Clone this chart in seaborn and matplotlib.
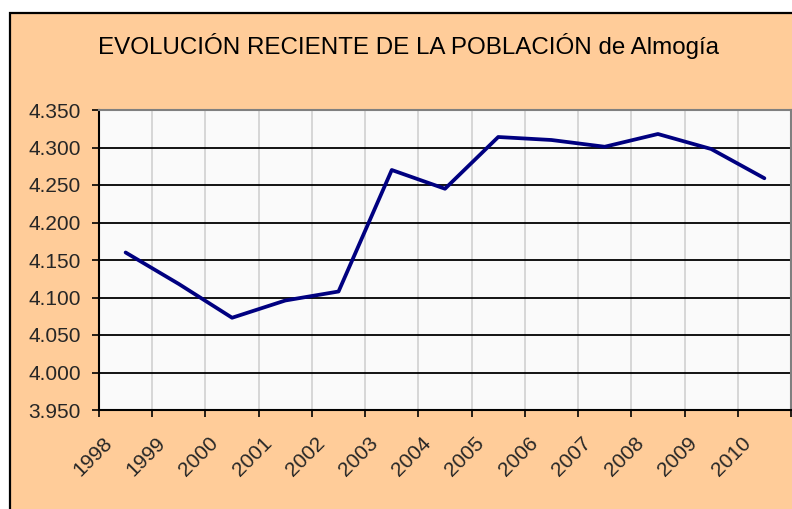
import pandas as pd
import numpy as np
import matplotlib.pyplot as plt
import matplotlib.transforms as mtransforms
from matplotlib.patches import Rectangle
from matplotlib.ticker import FuncFormatter, FixedLocator
import seaborn as sns

# data
years = [1998, 1999, 2000, 2001, 2002, 2003, 2004, 2005, 2006, 2007, 2008,
         2009, 2010]
population = [4160, 4118, 4073, 4096, 4108, 4270, 4245, 4314, 4310, 4301,
              4318, 4298, 4259]
y_ticks = [3950, 4000, 4050, 4100, 4150, 4200, 4250, 4300, 4350]
title = 'EVOLUCIÓN RECIENTE DE LA POBLACIÓN de Almogía'

df = pd.DataFrame({'Año': years, 'Población': population})

sns.set_style('white')
plt.rcParams['font.family'] = ['Liberation Sans', 'DejaVu Sans']

fig = plt.figure(figsize=(7.92, 5.09), dpi=100)
fig.patch.set_facecolor('white')

# peach chart frame (cut off at right and bottom like the screenshot)
frame = Rectangle((9.5 / 792, -0.05), 1.1, 1 - 13 / 509 + 0.05,
                  transform=fig.transFigure, facecolor='#FFCC99',
                  edgecolor='black', linewidth=1.6, zorder=-1)
fig.patches.append(frame)

ax = fig.add_axes([99 / 792, 1 - 410 / 509, 692 / 792, 300 / 509])
ax.set_zorder(1)
ax.set_facecolor('#FAFAFA')

sns.lineplot(data=df, x='Año', y='Población', color='#000080',
             linewidth=2.7, ax=ax, zorder=5)

ax.set_xlim(years[0] - 0.5, years[-1] + 0.5)
ax.set_ylim(y_ticks[0], y_ticks[-1])

# category boundaries carry the tick marks and the light vertical grid
bounds = [y - 0.5 for y in years] + [years[-1] + 0.5]
ax.xaxis.set_minor_locator(FixedLocator(bounds))
ax.set_xticks(years)
ax.tick_params(axis='x', which='major', length=0, pad=17)
ax.tick_params(axis='x', which='minor', length=5, width=1.2,
               color='black', direction='out', bottom=True)
ax.set_xticklabels([str(y) for y in years], rotation=45, ha='right',
                   va='top', fontsize=15)
# shift the slanted year labels a bit to the left, as Excel does
offset = mtransforms.ScaledTranslation(-10 / 100, 0, fig.dpi_scale_trans)
for lbl in ax.get_xticklabels():
    lbl.set_transform(lbl.get_transform() + offset)
ax.grid(True, axis='x', which='minor', color='#D4D4D4', linewidth=1.3)

ax.set_yticks(y_ticks)
ax.yaxis.set_major_formatter(
    FuncFormatter(lambda v, p: f'{v:,.0f}'.replace(',', '.')))
ax.tick_params(axis='y', which='major', length=5, width=1.2,
               color='black', direction='out', left=True, labelsize=15,
               pad=8)
ax.grid(True, axis='y', which='major', color='black', linewidth=1.3)
ax.set_axisbelow(True)

for side in ['left', 'bottom']:
    ax.spines[side].set_color('black')
    ax.spines[side].set_linewidth(1.5)
for side in ['top', 'right']:
    ax.spines[side].set_color('#808080')
    ax.spines[side].set_linewidth(1.5)

ax.set_xlabel('')
ax.set_ylabel('')

fig.text(409 / 792, 1 - 46 / 509, title, ha='center', va='center',
         fontsize=17.4, color='black')

plt.savefig('out.png', dpi=100, facecolor=fig.get_facecolor())
